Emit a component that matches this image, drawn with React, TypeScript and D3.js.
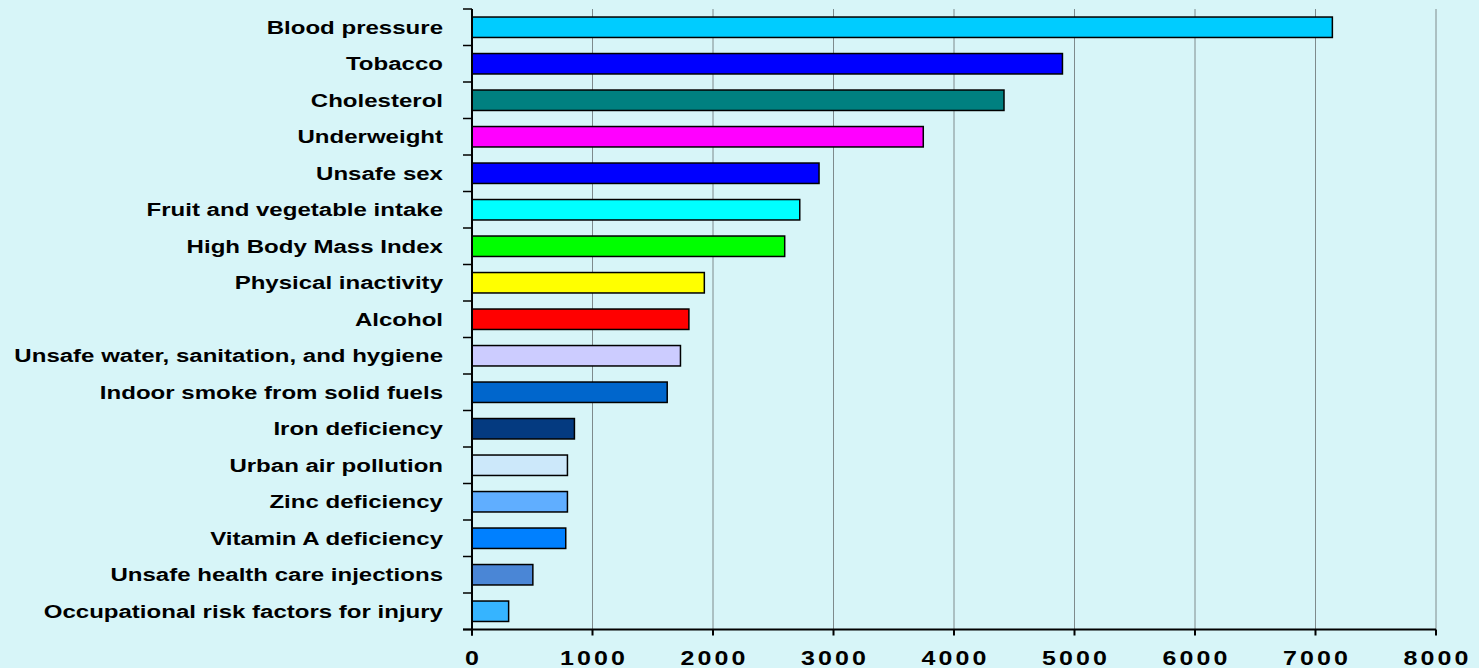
import React from "react";
import * as d3 from "d3";

const categories = [
  "Blood pressure",
  "Tobacco",
  "Cholesterol",
  "Underweight",
  "Unsafe sex",
  "Fruit and vegetable intake",
  "High Body Mass Index",
  "Physical inactivity",
  "Alcohol",
  "Unsafe water, sanitation, and hygiene",
  "Indoor smoke from solid fuels",
  "Iron deficiency",
  "Urban air pollution",
  "Zinc deficiency",
  "Vitamin A deficiency",
  "Unsafe health care injections",
  "Occupational risk factors for injury",
];

const values = [7140, 4900, 4415, 3745, 2880, 2720, 2595, 1928, 1800, 1730, 1620, 850, 792, 792, 778, 505, 304];

const barColors = [
  "#00CCFF",
  "#0000FF",
  "#008080",
  "#FF00FF",
  "#0000FF",
  "#00FFFF",
  "#00FF00",
  "#FFFF00",
  "#FF0000",
  "#CCCCFF",
  "#0066CC",
  "#043A80",
  "#CCE8FA",
  "#60AEFF",
  "#0080FF",
  "#4A86D6",
  "#36B4FF",
];

const xTicks = [0, 1000, 2000, 3000, 4000, 5000, 6000, 7000, 8000];

const W = 1479;
const H = 668;
const X0 = 472;
const X1 = 1436;
const Y0 = 9;
const Y1 = 629.5;
const SX = 1.3;

export default function App() {
  const x = d3.scaleLinear().domain([0, 8000]).range([X0, X1]);
  const y = d3
    .scaleBand<string>()
    .domain(categories)
    .range([Y0, Y1])
    .paddingInner(0.44)
    .paddingOuter(0.22);
  const step = y.step();
  const boundaries = d3.range(categories.length + 1).map((i) => Y0 + i * step);

  return (
    <svg
      width={W}
      height={H}
      style={{ position: "absolute", left: 0, top: 0, display: "block" }}
      fontFamily="'Liberation Sans', Arial, sans-serif"
    >
      <rect x={0} y={0} width={W} height={H} fill="#D7F5F8" />
      {/* gridlines */}
      {xTicks.slice(1).map((t) => (
        <line key={"g" + t} x1={x(t)} x2={x(t)} y1={Y0} y2={Y1} stroke="#7E8A8C" strokeWidth={1} />
      ))}
      {/* bars */}
      {categories.map((c, i) => (
        <rect
          key={c}
          x={x(0)}
          y={y(c)!}
          width={x(values[i]) - x(0)}
          height={y.bandwidth()}
          fill={barColors[i]}
          stroke="#000"
          strokeWidth={1.5}
        />
      ))}
      {/* y axis */}
      <line x1={X0} x2={X0} y1={Y0} y2={Y1 + 6} stroke="#000" strokeWidth={2} />
      {boundaries.map((b, i) => (
        <line key={"yt" + i} x1={X0 - 9} x2={X0} y1={b} y2={b} stroke="#000" strokeWidth={1.5} />
      ))}
      {/* x axis */}
      <line x1={X0 - 9} x2={X1} y1={Y1} y2={Y1} stroke="#000" strokeWidth={2} />
      {xTicks.map((t) => (
        <line key={"xt" + t} x1={x(t)} x2={x(t)} y1={Y1} y2={Y1 + 6} stroke="#000" strokeWidth={2} />
      ))}
      {/* y labels */}
      {categories.map((c) => (
        <text
          key={"l" + c}
          transform={`translate(443,${y(c)! + y.bandwidth() / 2 + 6.5}) scale(${SX},1)`}
          textAnchor="end"
          fontSize={18.5}
          fontWeight="bold"
          fill="#000"
        >
          {c}
        </text>
      ))}
      {/* x labels */}
      {xTicks.map((t) => (
        <text
          key={"xl" + t}
          transform={`translate(${x(t) + 1.5},665) scale(1.25,1)`}
          textAnchor="middle"
          fontSize={20}
          fontWeight="bold"
          letterSpacing={2.5}
          fill="#000"
        >
          {t}
        </text>
      ))}
    </svg>
  );
}
